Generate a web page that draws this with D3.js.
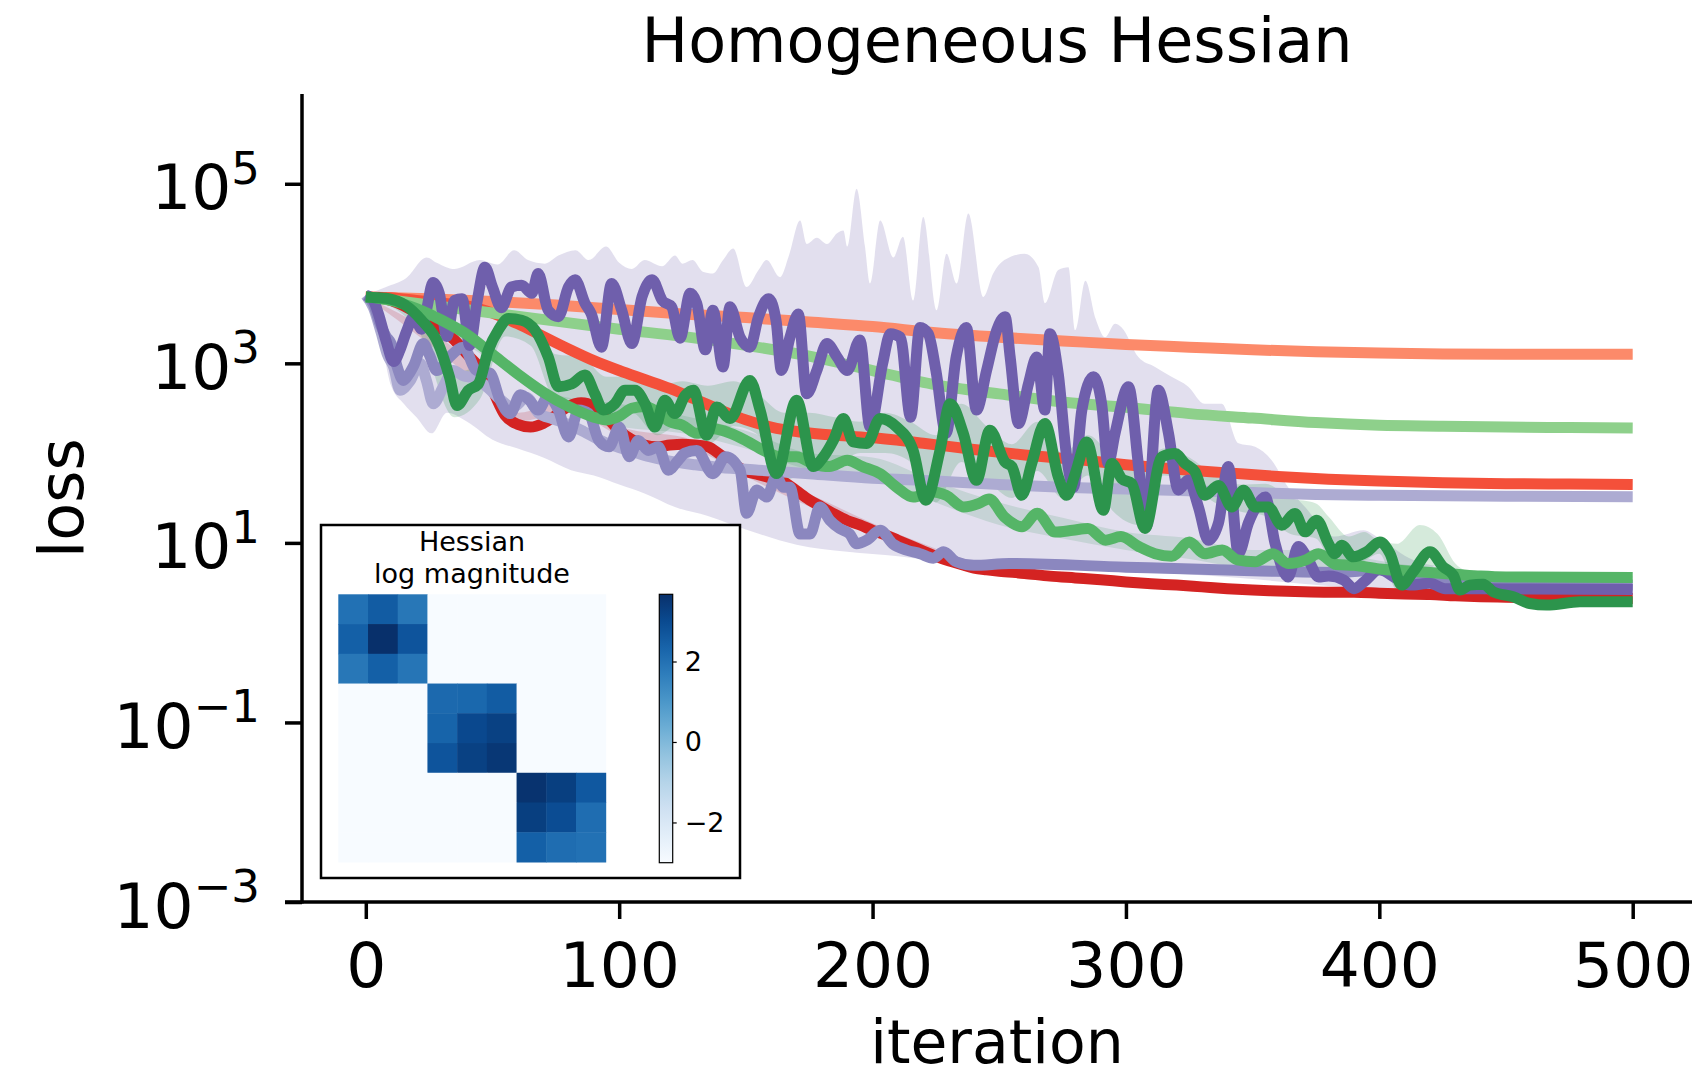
<!DOCTYPE html>
<html>
<head>
<meta charset="utf-8">
<script src="https://d3js.org/d3.v7.min.js"></script>
<style>
body { margin: 0; background: #fff; }
text { font-family: "DejaVu Sans", sans-serif; fill: #000; }
</style>
</head>
<body>
<script>
// all loss values below are log10(loss)
var iterTicks = [0, 100, 200, 300, 400, 500];
var lossTicks = [1e-3, 1e-1, 1e1, 1e3, 1e5];

var salmonLog = [[0,3.74],[25,3.72],[50,3.69],[75,3.65],[100,3.60],[125,3.55],[150,3.51],[175,3.46],[200,3.41],[225,3.34],[250,3.29],[275,3.25],[300,3.21],[325,3.18],[350,3.15],[375,3.13],[400,3.115],[425,3.105],[450,3.10],[475,3.10],[500,3.10]];
var redOrangeLog = [[0,3.74],[10,3.73],[20,3.70],[30,3.67],[40,3.64],[50,3.56],[60,3.44],[70,3.30],[80,3.16],[90,3.03],[100,2.92],[110,2.82],[120,2.72],[130,2.60],[140,2.48],[150,2.37],[160,2.29],[170,2.24],[180,2.21],[190,2.19],[200,2.17],[220,2.11],[240,2.04],[260,1.98],[280,1.93],[300,1.87],[320,1.82],[340,1.78],[360,1.74],[380,1.71],[400,1.69],[425,1.67],[450,1.66],[475,1.655],[500,1.65]];
var darkRedLog = [[0,3.74],[5,3.73],[10,3.70],[15,3.64],[20,3.56],[25,3.47],[30,3.38],[35,3.26],[40,3.10],[45,2.95],[50,2.70],[55,2.42],[60,2.32],[65,2.29],[70,2.33],[75,2.42],[80,2.52],[85,2.56],[90,2.52],[95,2.40],[100,2.25],[105,2.15],[110,2.09],[115,2.07],[120,2.09],[125,2.10],[130,2.09],[135,2.07],[140,1.98],[145,1.88],[150,1.80],[155,1.76],[160,1.72],[165,1.68],[170,1.58],[175,1.48],[180,1.40],[185,1.32],[190,1.25],[195,1.20],[200,1.14],[205,1.09],[210,1.03],[215,0.97],[220,0.91],[225,0.85],[230,0.80],[235,0.76],[240,0.72],[245,0.70],[250,0.685],[260,0.66],[270,0.63],[280,0.61],[290,0.59],[300,0.565],[310,0.545],[320,0.53],[330,0.51],[340,0.49],[350,0.475],[360,0.465],[370,0.455],[380,0.45],[390,0.45],[400,0.44],[410,0.43],[420,0.425],[430,0.41],[440,0.40],[450,0.395],[460,0.39],[470,0.385],[480,0.383],[490,0.382],[500,0.38]];

var lightGreenLog = [[0,3.74],[25,3.65],[50,3.56],[75,3.47],[100,3.38],[125,3.30],[150,3.20],[175,3.08],[200,2.92],[225,2.76],[250,2.66],[275,2.57],[300,2.51],[325,2.44],[350,2.39],[375,2.34],[400,2.31],[425,2.30],[450,2.29],[475,2.285],[500,2.28]];
var mediumGreenLog = [[0,3.74],[10,3.70],[20,3.61],[30,3.48],[40,3.32],[50,3.10],[60,2.88],[70,2.68],[80,2.52],[90,2.40],[95,2.37],[100,2.41],[105,2.50],[110,2.52],[115,2.46],[120,2.35],[125,2.31],[130.6,2.22],[137,2.27],[144,2.22],[150,2.14],[157,2.03],[163.5,1.96],[170,1.96],[176.6,1.88],[183,1.85],[190,1.92],[196,1.85],[203,1.77],[209.5,1.62],[216,1.51],[223,1.57],[229,1.53],[236,1.40],[242,1.44],[246,1.49],[252,1.29],[259,1.18],[265,1.33],[272,1.12],[279,1.14],[285,1.16],[292,1.03],[298,1.07],[305,0.96],[311.5,0.88],[318,0.85],[325,1.01],[331,0.88],[338,0.92],[344,0.81],[351,0.79],[358,0.88],[364,0.77],[371,0.81],[376,0.88],[383,0.76],[390,0.75],[400,0.71],[410,0.69],[420,0.67],[430,0.65],[440,0.63],[450,0.62],[500,0.615]];
var darkGreenLog = [[0,3.74],[5,3.73],[9,3.72],[15.5,3.65],[22,3.48],[28.6,3.22],[33,2.85],[36,2.53],[40.5,2.70],[44.4,2.77],[48.4,3.15],[52.3,3.37],[56.3,3.50],[61.5,3.48],[66.8,3.37],[72,3.07],[76,2.74],[81.2,2.77],[86.5,2.87],[90.4,2.66],[93.7,2.48],[98.3,2.55],[102.3,2.70],[106.2,2.70],[110.2,2.55],[114.1,2.29],[118,2.59],[122,2.44],[126,2.64],[129.3,2.70],[134.5,2.20],[138.5,2.515],[143.7,2.385],[151.6,2.81],[155.6,2.48],[162.1,1.772],[170,2.59],[176.6,1.85],[180.6,1.958],[184.5,2.14],[188.5,2.385],[192.4,2.125],[197.7,2.107],[203,2.385],[209.5,2.29],[216,2.03],[221,1.475],[226.6,2.03],[230.6,2.55],[235.8,2.22],[241,1.698],[246.3,2.255],[252.3,1.90],[255,1.85],[258.9,1.53],[262.8,1.884],[268,2.33],[273.3,1.735],[276.6,1.53],[280,1.772],[284.5,2.125],[291.1,1.364],[294.4,1.884],[298.3,1.717],[302.3,1.66],[307.5,1.16],[314.1,1.958],[319.4,1.995],[323.3,1.884],[327.3,1.79],[331.2,1.53],[336.5,1.64],[341.8,1.40],[346.4,1.587],[351,1.40],[356.2,1.40],[361.5,1.197],[366.7,1.327],[370.7,1.123],[375.3,1.253],[379.9,0.993],[382.5,0.88],[385.1,0.975],[389.7,0.845],[395,0.90],[400.2,1.01],[404.2,0.882],[408.8,0.53],[413.4,0.68],[420,0.90],[425.2,0.733],[429.2,0.64],[431.8,0.474],[435.7,0.53],[441,0.54],[445,0.455],[452.8,0.40],[459.4,0.325],[466,0.307],[479.2,0.344],[500,0.344]];

var lightPurpleLog = [[0,3.76],[3,3.62],[6,3.35],[8.5,3.1],[11,2.96],[13.5,2.70],[17.4,2.80],[21.4,3.0],[24,2.80],[26.6,2.55],[30.6,2.74],[34.5,2.92],[38.5,2.86],[42.4,2.84],[47.7,2.74],[53,2.60],[58,2.51],[63.5,2.62],[68,2.45],[74,2.38],[80,2.32],[86,2.24],[92,2.15],[98,2.08],[105,2.02],[112,1.96],[120,1.91],[130,1.87],[140,1.84],[155,1.81],[175,1.77],[200,1.72],[225,1.69],[250,1.65],[275,1.62],[300,1.60],[325,1.58],[350,1.56],[375,1.54],[400,1.53],[450,1.52],[500,1.513]];
var mediumPurpleLog = [[0,3.76],[3,3.66],[5.5,3.45],[8,3.30],[10,3.22],[12.5,2.95],[14.8,2.81],[17,2.88],[19,2.98],[22.7,3.22],[25,3.10],[28,2.92],[33,3.07],[38.5,3.18],[43.7,2.92],[49,2.89],[53,2.59],[57,2.44],[61,2.65],[64.5,2.59],[68,2.48],[72,2.63],[76,2.48],[80,2.18],[84,2.48],[88,2.44],[92,2.14],[96,2.07],[100,2.29],[104,1.96],[107.5,2.14],[111.5,2.03],[115.4,2.07],[119.4,1.81],[123.3,1.92],[126,2.0],[130.6,2.03],[137,1.77],[142,1.96],[147.7,1.81],[150.3,1.33],[154.3,1.59],[158.2,1.51],[162,1.74],[164.8,1.62],[167.4,1.62],[171.4,1.10],[175.3,1.10],[179.2,1.40],[183.2,1.25],[187,1.16],[191,1.10],[193.7,0.99],[197.7,1.03],[203,1.14],[208,0.99],[213.4,0.92],[218.7,0.88],[224,0.83],[228,0.90],[233,0.79],[240,0.75],[254,0.77],[300,0.73],[350,0.69],[383,0.67],[400,0.70],[420,0.62],[440,0.58],[460,0.55],[500,0.53]];
var darkPurpleLog = [[0,3.76],[3,3.70],[5,3.55],[8,3.25],[11,3.02],[13.5,3.15],[16,3.35],[19,3.52],[22,3.38],[24,3.60],[26.5,3.90],[29,3.78],[32,3.30],[35,3.70],[38,3.72],[41,3.20],[44,3.70],[47,4.07],[50,3.85],[53.5,3.62],[57.5,3.85],[61.5,3.87],[65.5,3.78],[68,4.0],[72,3.59],[76,3.52],[80,3.85],[82.6,3.93],[86.5,3.67],[89,3.55],[93,3.18],[97,3.89],[101,3.59],[105,3.22],[109,3.74],[113,3.93],[117,3.70],[120.7,3.63],[124,3.28],[128,3.78],[130.6,3.67],[134,3.15],[137,3.59],[141,2.96],[143.7,3.63],[147.7,3.29],[151.6,3.18],[155,3.52],[159,3.72],[162,3.46],[164,2.92],[167.4,3.29],[170.7,3.55],[174,2.66],[178,2.92],[182,3.22],[186,3.07],[190,2.92],[195,3.26],[199,2.29],[204,3.0],[207,3.33],[211,3.29],[215,2.40],[218.7,3.40],[222,3.33],[225,2.92],[229,2.22],[233,3.07],[237,3.40],[241,2.48],[245,2.92],[249,3.37],[252.3,3.52],[254.3,3.07],[257.6,2.33],[261.5,2.77],[264.8,3.07],[268,2.48],[270,3.33],[273.3,2.88],[276.6,1.96],[279.3,1.62],[282.6,2.48],[287.2,2.85],[290.4,2.55],[293,1.88],[295.7,2.22],[301,2.74],[305,1.85],[308,1.18],[312.8,2.70],[316.8,2.22],[320.7,1.59],[324.6,1.70],[328.6,1.40],[332.5,1.03],[336.5,1.22],[340.4,1.85],[344.4,0.88],[348.3,1.22],[352.3,1.44],[355,1.51],[358.8,1.0],[364,0.62],[368,0.96],[372,0.81],[376,0.62],[380,0.63],[386,0.585],[390,0.49],[394,0.567],[400,0.70],[407,0.60],[412,0.53],[420,0.55],[426,0.49],[440,0.49],[460,0.485],[500,0.48]];

// shaded spread around the noisy runs (top and bottom edges)
var darkPurpleBandTop = [[0,3.76],[8,3.85],[16,3.95],[24,4.18],[28,4.12],[35,4.05],[45,4.15],[52,4.10],[58.6,4.26],[64,4.15],[70.7,4.11],[76,4.2],[82.8,4.26],[88,4.15],[94.8,4.30],[100,4.12],[105,4.05],[110,4.15],[117,4.08],[122,4.2],[125,4.11],[129,4.15],[133,4.02],[137,4.0],[141,4.15],[145,4.28],[150.3,3.85],[155,4.04],[158.2,4.15],[163.5,3.96],[167,4.2],[171.4,4.59],[174,4.33],[178,4.4],[182,4.33],[186,4.45],[188.5,4.48],[190,4.3],[193.7,4.945],[197,4.3],[199,3.89],[203,4.59],[208.2,4.18],[212,4.41],[216,3.70],[220,4.63],[225.3,3.59],[229.2,4.22],[233.2,3.89],[237.8,4.67],[243.7,3.74],[247.6,4.0],[252,4.15],[260,4.22],[265.5,4.07],[268,3.67],[273.3,4.04],[277.3,4.07],[280,3.37],[284,3.92],[288,3.5],[291.8,3.29],[295.7,3.44],[298.3,3.40],[304.9,3.07],[311.5,2.96],[318,2.85],[324.6,2.74],[331,2.55],[337.8,2.55],[344.4,2.11],[351,2.07],[357.5,1.92],[364,1.62],[370.7,1.40],[382.5,1.07],[393.7,1.14],[400,1.05],[413.4,0.81],[433,0.70],[460,0.58],[500,0.55]];
var darkPurpleBandBottom = [[0,3.74],[5,3.4],[10,2.75],[15,2.55],[20,2.4],[26,2.22],[32,2.45],[40,2.35],[50,2.15],[60,2.05],[70,1.95],[81,1.81],[90,1.75],[100,1.65],[110,1.55],[122,1.40],[135,1.30],[150,1.15],[170,0.98],[190,0.90],[210,0.85],[230,0.78],[260,0.72],[300,0.68],[340,0.62],[380,0.52],[420,0.44],[460,0.44],[500,0.44]];
var darkGreenBandTop = [[0,3.76],[20,3.55],[35,2.9],[45,3.0],[55,3.55],[65,3.5],[75,3.1],[85,3.07],[95,2.85],[105,2.85],[115,2.75],[125,2.8],[135,2.75],[145,2.80],[155,2.65],[165,2.45],[175,2.45],[185,2.4],[195,2.35],[205,2.45],[215,2.35],[225,2.2],[235,2.55],[245,2.3],[255,2.1],[265,2.35],[275,2.0],[285,2.2],[295,1.95],[305,1.85],[315,2.05],[325,1.95],[335,1.75],[345,1.65],[355,1.66],[365,1.5],[375,1.44],[380,1.29],[388,1.07],[394,1.12],[400,1.02],[407,0.99],[416,1.20],[423,1.1],[430,0.77],[436,0.66],[445,0.52],[460,0.38],[500,0.37]];
var darkGreenBandBottom = [[0,3.74],[20,3.4],[35,2.4],[45,2.6],[55,3.3],[65,3.2],[75,2.6],[85,2.6],[95,2.35],[105,2.45],[115,2.2],[125,2.35],[135,2.1],[145,2.3],[155,2.2],[165,1.7],[175,1.8],[185,1.85],[195,2.0],[205,2.0],[215,1.9],[225,1.45],[235,1.9],[245,1.7],[255,1.5],[265,1.8],[275,1.5],[285,1.75],[295,1.35],[305,1.2],[315,1.75],[325,1.65],[335,1.45],[345,1.35],[355,1.30],[365,1.10],[375,1.05],[380,0.85],[388,0.75],[394,0.80],[400,0.88],[407,0.48],[416,0.62],[423,0.75],[430,0.55],[436,0.45],[445,0.42],[460,0.30],[500,0.32]];
var mediumGreenBandTop = [[0,3.76],[25,3.58],[50,3.15],[75,2.65],[100,2.55],[125,2.42],[150,2.25],[175,2.0],[200,1.95],[225,1.68],[250,1.45],[275,1.28],[300,1.12],[325,1.05],[350,0.92],[375,0.92],[400,0.80],[425,0.70],[450,0.64],[500,0.63]];
var mediumGreenBandBottom = [[0,3.74],[25,3.45],[50,3.02],[75,2.52],[100,2.30],[125,2.22],[150,2.05],[175,1.82],[200,1.75],[225,1.45],[250,1.20],[275,1.05],[300,0.92],[325,0.82],[350,0.72],[375,0.72],[400,0.66],[425,0.64],[450,0.60],[500,0.60]];
var darkRedBandTop = [[0,3.74],[50,2.78],[60,2.45],[80,2.58],[100,2.30],[130,2.14],[150,1.86],[180,1.48],[200,1.22],[220,0.99],[240,0.79],[260,0.70],[300,0.59],[350,0.49],[400,0.455],[450,0.405],[500,0.39]];
var darkRedBandBottom = [[0,3.74],[50,2.62],[60,2.35],[80,2.46],[100,2.20],[130,2.04],[150,1.74],[180,1.34],[200,1.08],[220,0.85],[240,0.67],[260,0.63],[300,0.545],[350,0.46],[400,0.43],[450,0.385],[500,0.37]];

// inset: 9x9 Hessian log magnitude, three 3x3 diagonal blocks
var hessianLogMag = [
  [2.0, 2.55, 1.85, -3, -3, -3, -3, -3, -3],
  [2.45, 3.67, 2.75, -3, -3, -3, -3, -3, -3],
  [1.85, 2.45, 1.9, -3, -3, -3, -3, -3, -3],
  [-3, -3, -3, 2.2, 2.25, 2.55, -3, -3, -3],
  [-3, -3, -3, 2.35, 3.05, 3.25, -3, -3, -3],
  [-3, -3, -3, 2.75, 3.25, 3.5, -3, -3, -3],
  [-3, -3, -3, -3, -3, -3, 3.6, 3.3, 2.65],
  [-3, -3, -3, -3, -3, -3, 3.3, 2.95, 2.1],
  [-3, -3, -3, -3, -3, -3, 2.45, 2.1, 2.0]
];
var colorbarTicks = [-2, 0, 2];

var widthScr = 1692;
var heightScr = 1079;
var canvas;
var x = d3.scaleLinear().domain([0, 500]).range([365.8, 1632.7]);
var y = d3.scaleLog().domain([1e-3, 1e6]).range([902, 94]);

var lineGen = d3.line()
    .curve(d3.curveMonotoneX)
    .x(function(d) { return x(d[0]); })
    .y(function(d) { return y(Math.pow(10, d[1])); });

function start() {
    canvas = d3.select("body").append("svg")
        .attr("width", widthScr)
        .attr("height", heightScr);
    canvas.append("rect").attr("width", widthScr).attr("height", heightScr).attr("fill", "white");
    canvas.append("clipPath").attr("id", "plotclip")
        .append("rect").attr("x", 302).attr("y", 94).attr("width", widthScr - 302).attr("height", 808);
    drawBands();
    drawLines();
    drawAxes();
    drawInset();
}

//band path = top edge forward + bottom edge backward
function bandPath(top, bottom) {
    var up = lineGen(top);
    var down = lineGen(bottom.slice().reverse());
    return up + "L" + down.slice(1) + "Z";
}

function drawBands() {
    var g = canvas.append("g").attr("clip-path", "url(#plotclip)");
    var bands = [
        [darkRedBandTop, darkRedBandBottom, "#d42322"],
        [mediumGreenBandTop, mediumGreenBandBottom, "#55b567"],
        [darkPurpleBandTop, darkPurpleBandBottom, "#6f5fac"],
        [darkGreenBandTop, darkGreenBandBottom, "#2c944c"]
    ];
    bands.forEach(function(b) {
        g.append("path")
            .attr("d", bandPath(b[0], b[1]))
            .attr("fill", b[2])
            .attr("fill-opacity", 0.2)
            .attr("stroke", "none");
    });
}

function drawLines() {
    var g = canvas.append("g").attr("clip-path", "url(#plotclip)");
    var series = [
        [salmonLog, "#fc8a6a"],
        [redOrangeLog, "#f4503a"],
        [darkRedLog, "#d42322"],
        [lightGreenLog, "#8ed08b"],
        [lightPurpleLog, "#adabd2"],
        [mediumPurpleLog, "#8b87bf"],
        [darkPurpleLog, "#6f5fac"],
        [mediumGreenLog, "#55b567"],
        [darkGreenLog, "#2c944c"]
    ];
    series.forEach(function(s) {
        g.append("path")
            .attr("d", lineGen(s[0]))
            .attr("fill", "none")
            .attr("stroke", s[1])
            .attr("stroke-width", 11)
            .attr("stroke-linejoin", "round")
            .attr("stroke-linecap", "butt");
    });
}

function drawAxes() {
    //x axis
    var gx = canvas.append("g").attr("transform", "translate(0,902)")
        .call(d3.axisBottom(x).tickValues(iterTicks).tickSize(17).tickPadding(23).tickFormat(d3.format("d")));
    gx.select(".domain").remove();
    gx.selectAll(".tick line").attr("stroke", "black").attr("stroke-width", 3.5);
    gx.selectAll(".tick text").attr("font-size", 63).attr("font-family", "DejaVu Sans");

    //y axis with 10^n labels
    var gy = canvas.append("g").attr("transform", "translate(302,0)")
        .call(d3.axisLeft(y).tickValues(lossTicks).tickSize(17).tickFormat(""));
    gy.select(".domain").remove();
    gy.selectAll(".tick line").attr("stroke", "black").attr("stroke-width", 3.5);
    gy.selectAll(".tick").each(function(v) {
        var exp = Math.round(Math.log10(v));
        var t = d3.select(this).append("text")
            .attr("x", -42).attr("y", 25)
            .attr("text-anchor", "end")
            .attr("font-size", 63);
        t.append("tspan").text("10");
        t.append("tspan").attr("font-size", 45).attr("dy", -25.5)
            .text(exp < 0 ? "\u2212" + (-exp) : String(exp));
    });

    canvas.append("line").attr("x1", 302).attr("x2", 302).attr("y1", 94).attr("y2", 903.5)
        .attr("stroke", "black").attr("stroke-width", 3.5);
    canvas.append("line").attr("x1", 285).attr("x2", widthScr).attr("y1", 902).attr("y2", 902)
        .attr("stroke", "black").attr("stroke-width", 3.5);

    canvas.append("text").attr("x", 997).attr("y", 62)
        .attr("text-anchor", "middle").attr("font-size", 62).text("Homogeneous Hessian");
    canvas.append("text").attr("x", 997).attr("y", 1063)
        .attr("text-anchor", "middle").attr("font-size", 60).text("iteration");
    canvas.append("text").attr("transform", "translate(83,498) rotate(-90)")
        .attr("text-anchor", "middle").attr("font-size", 62).text("loss");
}

function drawInset() {
    var g = canvas.append("g");
    g.append("rect").attr("x", 321).attr("y", 525).attr("width", 419).attr("height", 353)
        .attr("fill", "white").attr("stroke", "black").attr("stroke-width", 2.5);

    g.append("text").attr("x", 472).attr("y", 551).attr("text-anchor", "middle")
        .attr("font-size", 27).text("Hessian");
    g.append("text").attr("x", 472).attr("y", 583).attr("text-anchor", "middle")
        .attr("font-size", 27).text("log magnitude");

    var hx = d3.scaleBand().domain(d3.range(9)).range([338.3, 605.7]);
    var hy = d3.scaleBand().domain(d3.range(9)).range([594.3, 862]);
    var color = d3.scaleSequential(d3.interpolateBlues).domain([-3.0, 3.67]);

    hessianLogMag.forEach(function(row, r) {
        row.forEach(function(v, c) {
            g.append("rect")
                .attr("x", hx(c)).attr("y", hy(r))
                .attr("width", hx.bandwidth() + 0.5).attr("height", hy.bandwidth() + 0.5)
                .attr("fill", color(v));
        });
    });

    //colorbar
    var grad = canvas.append("defs").append("linearGradient").attr("id", "cbgrad")
        .attr("x1", 0).attr("y1", 1).attr("x2", 0).attr("y2", 0);
    d3.range(0, 1.0001, 0.1).forEach(function(t) {
        grad.append("stop").attr("offset", t).attr("stop-color", d3.interpolateBlues(t));
    });
    var cbY = d3.scaleLinear().domain([-3.0, 3.67]).range([862.7, 594.3]);
    g.append("rect").attr("x", 659.3).attr("y", 594.3).attr("width", 13.4).attr("height", 268.4)
        .attr("fill", "url(#cbgrad)").attr("stroke", "black").attr("stroke-width", 1.2);
    var gc = g.append("g").attr("transform", "translate(672.7,0)")
        .call(d3.axisRight(cbY).tickValues(colorbarTicks).tickSize(4).tickPadding(8).tickFormat(d3.format("d")));
    gc.select(".domain").remove();
    gc.selectAll(".tick line").attr("stroke", "black").attr("stroke-width", 1.2);
    gc.selectAll(".tick text").attr("font-size", 27).attr("font-family", "DejaVu Sans");
}

start();
</script>
</body>
</html>
